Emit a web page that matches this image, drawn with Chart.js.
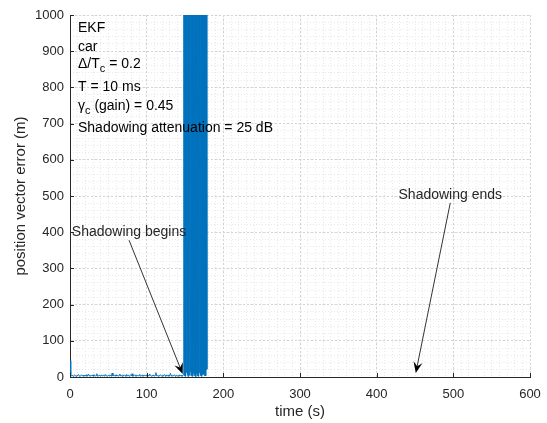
<!DOCTYPE html>
<html>
<head>
<meta charset="utf-8">
<title>EKF position error</title>
<script src="https://cdn.jsdelivr.net/npm/chart.js@4/dist/chart.umd.min.js"></script>
<style>
  html, body { margin: 0; padding: 0; background: #fff; }
  #errChart { display: block; }
</style>
</head>
<body>
<canvas id="errChart" width="547" height="423"></canvas>
<script>
// ------------------------------------------------------------
// data
// ------------------------------------------------------------

// tracking error before shadowing, one sample per second from t = 0
const noiseStartS = 0;
const noiseStepS = 1;
const noiseErr = [
  45, 8, 3, 5, 2, 4, 6, 3, 2, 5, 4, 7, 3, 2, 4, 6, 3, 5, 2, 4,
  3, 6, 2, 4, 8, 3, 5, 2, 4, 3, 6, 2, 5, 3, 4, 9, 2, 3, 5, 4,
  2, 6, 3, 4, 5, 2, 7, 3, 4, 2, 5, 3, 6, 4, 2, 11, 3, 4, 5, 2,
  6, 3, 4, 2, 5, 8, 3, 4, 2, 6, 3, 5, 4, 2, 7, 3, 5, 2, 4, 6,
  3, 9, 2, 4, 5, 3, 6, 2, 4, 3, 5, 7, 2, 4, 3, 6, 2, 5, 4, 3,
  6, 2, 4, 3, 8, 5, 2, 4, 3, 6, 2, 5, 12, 3, 4, 2, 5, 3, 6, 4,
  2, 5, 3, 7, 4, 2, 6, 3, 5, 2, 4, 10, 3, 5, 2, 4, 6, 3, 2, 5,
  3, 4, 2, 6, 3, 5, 2, 4
];

// filter blows up once shadowing starts, half-second samples
const burstStartS = 148;
const burstStepS = 0.5;
const burstErr = [
  6, 1800, 3, 2600, 9, 3400, 2, 2100, 12, 4000, 5, 2900, 1, 3700, 8, 2300,
  4, 3100, 15, 2700, 3, 3900, 7, 1900, 2, 3300, 10, 2500, 4, 3600, 6, 2200,
  1, 3000, 9, 4100, 3, 2800, 5, 3500, 2, 2400, 11, 3800, 4, 2000, 7, 3200,
  2, 2600, 6, 3400, 8, 2900, 4, 2100, 5, 3700, 3, 2500, 20, 3000, 22
];

const xTicks = [0, 100, 200, 300, 400, 500, 600];
const yTicks = [0, 100, 200, 300, 400, 500, 600, 700, 800, 900, 1000];

// textarrows: text sits at the tail, head points at the event
const shadowNotes = [
  { text: 'Shadowing begins', tail: { x: 77, y: 378 }, head: { x: 147, y: 8 } },
  { text: 'Shadowing ends',   tail: { x: 496, y: 481 }, head: { x: 451, y: 11 } }
];

// ------------------------------------------------------------
// build points
// ------------------------------------------------------------
const points = [];
noiseErr.forEach((v, i) => points.push({ x: noiseStartS + i * noiseStepS, y: v }));
burstErr.forEach((v, i) => points.push({ x: burstStartS + i * burstStepS, y: v }));

const FONT = '"Liberation Sans", Arial, Helvetica, sans-serif';
const AXIS_COLOR = '#262626';
const LINE_BLUE = '#0072BD';

// ------------------------------------------------------------
// plugins
// ------------------------------------------------------------

// matlab style inward tick marks
const inwardTicks = {
  id: 'inwardTicks',
  afterDatasetsDraw(chart) {
    const { ctx, chartArea: a, scales } = chart;
    ctx.save();
    ctx.strokeStyle = AXIS_COLOR;
    ctx.lineWidth = 1;
    ctx.beginPath();
    xTicks.forEach(v => {
      const px = Math.round(scales.x.getPixelForValue(v)) + 0.5;
      ctx.moveTo(px, a.bottom);
      ctx.lineTo(px, a.bottom - 4);
    });
    yTicks.forEach(v => {
      const py = Math.round(scales.y.getPixelForValue(v)) + 0.5;
      ctx.moveTo(a.left, py);
      ctx.lineTo(a.left + 4, py);
    });
    ctx.stroke();
    ctx.restore();
  }
};

// text with a lowered subscript, parts = [[str, isSub], ...]
function drawRich(ctx, parts, x, y) {
  let cx = x;
  parts.forEach(([s, sub]) => {
    ctx.font = (sub ? '11px ' : '14px ') + FONT;
    ctx.fillText(s, cx, sub ? y + 5 : y);
    cx += ctx.measureText(s).width;
  });
}

const infoBox = {
  id: 'infoBox',
  afterDatasetsDraw(chart) {
    const { ctx, chartArea: a } = chart;
    const x = a.left + 8;
    ctx.save();
    ctx.fillStyle = '#000';
    ctx.textBaseline = 'middle';
    ctx.textAlign = 'left';
    drawRich(ctx, [['EKF', false]], x, a.top + 13);
    drawRich(ctx, [['car', false]], x, a.top + 32);
    drawRich(ctx, [['\u0394/T', false], ['c', true], [' = 0.2', false]], x, a.top + 49);
    drawRich(ctx, [['T = 10 ms', false]], x, a.top + 72);
    drawRich(ctx, [['\u03b3', false], ['c', true], [' (gain) = 0.45', false]], x, a.top + 91);
    drawRich(ctx, [['Shadowing attenuation = 25 dB', false]], x, a.top + 113);
    ctx.restore();
  }
};

const textArrows = {
  id: 'textArrows',
  afterDatasetsDraw(chart) {
    const { ctx, scales } = chart;
    ctx.save();
    shadowNotes.forEach(n => {
      const tx = scales.x.getPixelForValue(n.tail.x);
      const ty = scales.y.getPixelForValue(n.tail.y);
      const hx = scales.x.getPixelForValue(n.head.x);
      const hy = scales.y.getPixelForValue(n.head.y);

      ctx.font = '14px ' + FONT;
      ctx.fillStyle = '#262626';
      ctx.textAlign = 'center';
      ctx.textBaseline = 'middle';
      ctx.fillText(n.text, tx, ty - 8);

      const ang = Math.atan2(hy - ty, hx - tx);
      const len = 11, wid = 4.5, notch = 7;
      const bx = hx - Math.cos(ang) * notch, by = hy - Math.sin(ang) * notch;

      ctx.strokeStyle = '#000';
      ctx.lineWidth = 0.8;
      ctx.beginPath();
      ctx.moveTo(tx, ty);
      ctx.lineTo(bx, by);
      ctx.stroke();

      // notched arrow head
      const ex = hx - Math.cos(ang) * len, ey = hy - Math.sin(ang) * len;
      const nx = -Math.sin(ang), ny = Math.cos(ang);
      ctx.fillStyle = '#000';
      ctx.beginPath();
      ctx.moveTo(hx, hy);
      ctx.lineTo(ex + nx * wid, ey + ny * wid);
      ctx.lineTo(bx, by);
      ctx.lineTo(ex - nx * wid, ey - ny * wid);
      ctx.closePath();
      ctx.fill();
    });
    ctx.restore();
  }
};

// ------------------------------------------------------------
// chart
// ------------------------------------------------------------
const majorGrid = { color: '#d4d4d4', lineWidth: 1, drawTicks: false };
const minorGrid = { color: '#e8e8e8', lineWidth: 1, drawTicks: false };
const plainNum = v => String(v);

new Chart(document.getElementById('errChart').getContext('2d'), {
  type: 'line',
  data: {
    datasets: [{
      data: points,
      borderColor: LINE_BLUE,
      borderWidth: 1,
      pointRadius: 0,
      tension: 0,
      fill: false
    }]
  },
  options: {
    responsive: false,
    animation: false,
    devicePixelRatio: 1,
    layout: { padding: { left: 12, right: 17, top: 15, bottom: 2 } },
    plugins: {
      legend: { display: false },
      tooltip: { enabled: false }
    },
    scales: {
      xm: {
        type: 'linear', position: 'top', min: 0, max: 600,
        ticks: { display: false, stepSize: 10 },
        grid: minorGrid,
        border: { display: false, dash: [1, 2] },
        afterFit: s => { s.height = 0; }
      },
      ym: {
        type: 'linear', position: 'right', min: 0, max: 1000,
        ticks: { display: false, stepSize: 20 },
        grid: minorGrid,
        border: { display: false, dash: [1, 2] },
        afterFit: s => { s.width = 0; }
      },
      x: {
        type: 'linear', position: 'bottom', min: 0, max: 600,
        afterBuildTicks: s => { s.ticks = xTicks.map(v => ({ value: v })); },
        ticks: { color: AXIS_COLOR, font: { family: FONT, size: 13 }, padding: 10, maxRotation: 0, callback: plainNum },
        grid: majorGrid,
        border: { display: true, color: AXIS_COLOR, width: 1, dash: [2, 2] },
        title: { display: true, text: 'time (s)', color: AXIS_COLOR, font: { family: FONT, size: 15 }, padding: 0 },
        afterFit: s => { s.height = 44; s.paddingLeft = 0; s.paddingRight = 0; }
      },
      y: {
        type: 'linear', position: 'left', min: 0, max: 1000,
        afterBuildTicks: s => { s.ticks = yTicks.map(v => ({ value: v })); },
        ticks: { color: AXIS_COLOR, font: { family: FONT, size: 13 }, padding: 6, callback: plainNum },
        grid: majorGrid,
        border: { display: true, color: AXIS_COLOR, width: 1, dash: [2, 2] },
        title: { display: true, text: 'position vector error (m)', color: AXIS_COLOR, font: { family: FONT, size: 15 }, padding: 0 },
        afterFit: s => { s.width = 58; s.paddingTop = 0; s.paddingBottom = 0; }
      }
    }
  },
  plugins: [inwardTicks, infoBox, textArrows]
});
</script>
</body>
</html>
